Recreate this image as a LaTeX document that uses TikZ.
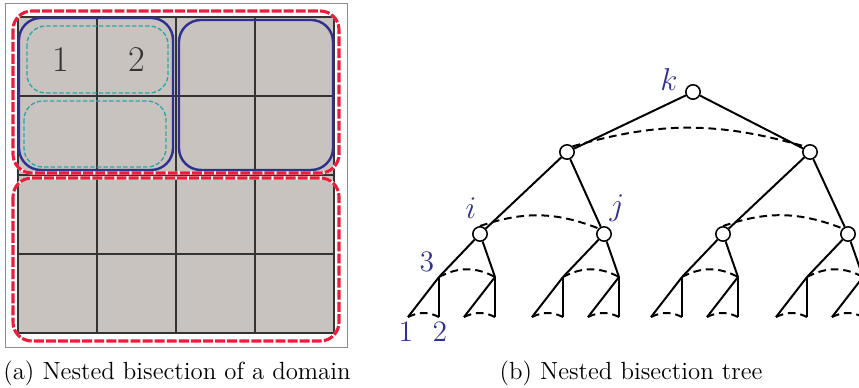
\documentclass[tikz,border=0pt]{standalone}
\usetikzlibrary{positioning}

\definecolor{cellgray}{RGB}{201,195,191}
\definecolor{partred}{RGB}{236,28,58}
\definecolor{partblue}{RGB}{46,49,146}
\definecolor{partteal}{RGB}{38,166,170}

\begin{document}
\begin{tikzpicture}[
        cell/.style={
            fill=cellgray,
            draw=black!80,
            line width=0.5pt
        },
        redpart/.style={
            draw=partred,
            line width=1.4pt,
            rounded corners=0.3cm,
            dash pattern=on 4.5pt off 1pt
        },
        redback/.style={
            draw=white,
            line width=1.4pt,
            rounded corners=0.3cm
        },
        bluepart/.style={
            draw=partblue,
            line width=1.1pt,
            rounded corners=0.35cm
        },
        tealpart/.style={
            draw=partteal,
            line width=0.6pt,
            rounded corners=0.3cm,
            dash pattern=on 2pt off 1pt
        },
        treenode/.style={
            circle,
            draw,
            line width=0.7pt,
            fill=white,
            minimum size=0.23cm,
            inner sep=0pt
        },
        edge/.style={
            line width=0.9pt
        },
        sep/.style={
            line width=0.9pt,
            dash pattern=on 3.5pt off 2.2pt
        },
        tag/.style={
            text=partblue,
            font=\fontsize{13.5}{15}\selectfont,
            inner sep=0pt
        },
        caption/.style={
            font=\fontsize{11.3}{13}\selectfont
        }
    ]

        \useasboundingbox (0,0) rectangle (13.744,-6.208);
        \clip (0,0) rectangle (13.744,-6.208);

        % domain: 4x4 grid of cells
        \draw[black!45, line width=0.4pt] (0.08,-0.048) rectangle (5.552,-5.552);
        \foreach \i in {0,...,3} {
            \foreach \j in {0,...,3} {
                \draw[cell] (0.288+1.264*\i,-0.272-1.264*\j) rectangle ++(1.264,-1.264);
            }
        }
        \draw[black!80, line width=0.9pt] (0.288,-2.8) -- (5.344,-2.8);

        % first cut (red), second cut (blue), third cut (teal)
        \draw[redback] (0.208,-0.176) rectangle (5.424,-2.768);
        \draw[redpart] (0.208,-0.176) rectangle (5.424,-2.768);
        \draw[redback] (0.208,-2.848) rectangle (5.424,-5.456);
        \draw[redpart] (0.208,-2.848) rectangle (5.424,-5.456);
        \draw[bluepart] (0.304,-0.288) rectangle (2.768,-2.72);
        \draw[bluepart] (2.864,-0.32) rectangle (5.328,-2.72);
        \draw[tealpart] (0.432,-0.416) rectangle (2.688,-1.488);
        \draw[tealpart] (0.384,-1.616) rectangle (2.656,-2.672);

        \node[font=\fontsize{16.5}{18}\selectfont, text=black!80] (c1) at (0.976,-0.96) {1};
        \node[font=\fontsize{16.5}{18}\selectfont, text=black!80] (c2) at (2.192,-0.96) {2};

        % separator tree
        \node[treenode] (k) at (11.088,-1.472) {};
        \node[treenode] (a) at (9.072,-2.432) {};
        \node[treenode] (b) at (12.96,-2.432) {};
        \node[treenode] (aa) at (7.68,-3.744) {};
        \node[treenode] (ab) at (9.664,-3.744) {};
        \node[treenode] (ba) at (11.568,-3.744) {};
        \node[treenode] (bb) at (13.568,-3.744) {};

        \draw[edge] (k) -- (a);
        \draw[edge] (k) -- (b);
        \draw[edge] (a) -- (aa);
        \draw[edge] (a) -- (ab);
        \draw[edge] (b) -- (ba);
        \draw[edge] (b) -- (bb);

        \draw[sep] (a.north east) to[bend left=16] (b.north west);
        \draw[sep] (aa.north) to[bend left=20] (ab.north west);
        \draw[sep] (ba.north) to[bend left=20] (bb.north west);

        % lowest two levels under each node
        \foreach \n in {aa,ab,ba,bb} {
            \coordinate (\n-l) at ([shift={(-0.656,-0.688)}]\n.center);
            \coordinate (\n-r) at ([shift={(0.24,-0.688)}]\n.center);
            \coordinate (\n-ll) at ([shift={(-0.496,-0.64)}]\n-l);
            \coordinate (\n-lr) at ([shift={(0,-0.64)}]\n-l);
            \coordinate (\n-rl) at ([shift={(-0.496,-0.64)}]\n-r);
            \coordinate (\n-rr) at ([shift={(0,-0.64)}]\n-r);
            \draw[edge] (\n) -- (\n-l);
            \draw[edge] (\n) -- (\n-r);
            \draw[edge] (\n-l) -- (\n-ll);
            \draw[edge] (\n-l) -- (\n-lr);
            \draw[edge] (\n-r) -- (\n-rl);
            \draw[edge] (\n-r) -- (\n-rr);
            \draw[sep] (\n-l) to[bend left=28] (\n-r);
            \draw[sep] (\n-ll) to[bend left=26] (\n-lr);
            \draw[sep] (\n-rl) to[bend left=26] (\n-rr);
        }

        \node[tag] (klab) at (10.704,-1.28) {$k$};
        \node[tag] (ilab) at (7.536,-3.328) {$i$};
        \node[tag] (jlab) at (9.872,-3.328) {$j$};
        \node[tag] (lab3) at (6.832,-4.192) {3};
        \node[tag] (lab1) at (6.496,-5.312) {1};
        \node[tag] (lab2) at (7.04,-5.312) {2};

        % captions
        \node[caption] (capa) at (2.832,-5.968) {(a) Nested bisection of a domain};
        \node[caption] (capb) at (10.096,-5.968) {(b) Nested bisection tree};

    \end{tikzpicture}
\end{document}
